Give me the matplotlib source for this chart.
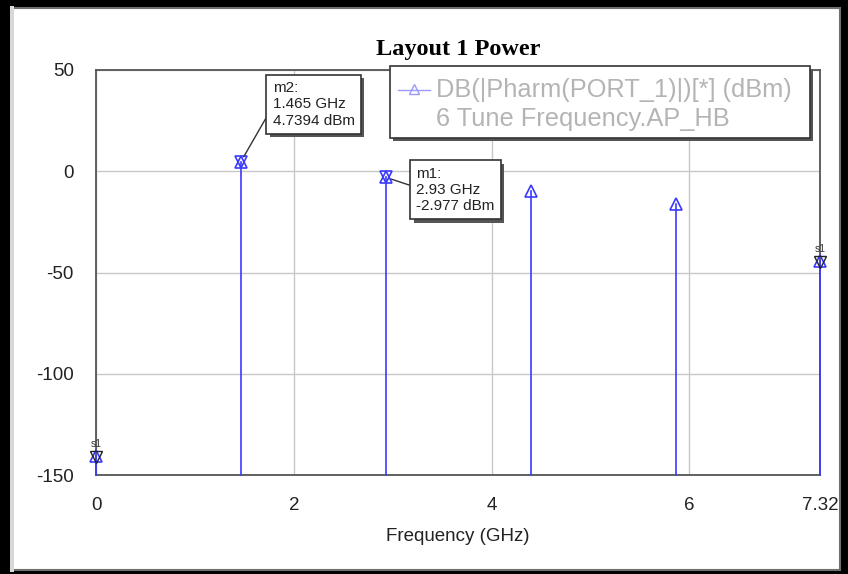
import matplotlib
matplotlib.use("Agg")
import matplotlib.pyplot as plt
from matplotlib.patches import Rectangle
import matplotlib.patheffects as pe

plt.rcParams['font.family'] = ['Liberation Sans', 'DejaVu Sans']
plt.rcParams['axes.unicode_minus'] = False

freq = [0.0, 1.465, 2.93, 4.395, 5.86, 7.32]
power = [-140.5, 4.7394, -2.977, -9.8, -16.3, -44.5]
xticks = [0, 2, 4, 6, 7.32]
xticklabels = ["0", "2", "4", "6", "7.32"]
yticks = [50, 0, -50, -100, -150]

fig = plt.figure(figsize=(8.48, 5.74), dpi=100, facecolor='black')
W, H = 848, 574
# white panel
fig.patches.append(Rectangle((12 / W, 4 / H), 828 / W, 562 / H, transform=fig.transFigure,
                             facecolor='white', edgecolor='#707070', linewidth=1.5, zorder=-2))
fig.patches.append(Rectangle((10 / W, 2 / H), 4 / W, 566 / H, transform=fig.transFigure,
                             facecolor='#d8d8d8', edgecolor='none', zorder=-2))

ax = fig.add_axes([96 / W, 1 - 475 / H, 724 / W, 405 / H])
ax.set_zorder(1)
ax.set_xlim(0, 7.32)
ax.set_ylim(-150, 50)
ax.set_facecolor('white')
for s in ax.spines.values():
    s.set_color('#555555')
    s.set_linewidth(1.3)
ax.set_xticks(xticks)
ax.set_xticklabels(xticklabels)
ax.set_yticks(yticks)
ax.tick_params(length=0, labelsize=13.5, colors='#222222', pad=16)
ax.tick_params(axis='y', pad=16)
ax.grid(True, color='#c8c8c8', linewidth=1)
ax.set_axisbelow(True)

ax.set_title("Layout 1 Power", family='Liberation Serif', fontweight='bold', fontsize=17.5, pad=11)
ax.set_xlabel("Frequency (GHz)", fontsize=13.5, labelpad=10, color='#222222')

blue = '#3a3aff'
for f, p in zip(freq, power):
    ax.plot([f, f], [-150, p], color=blue, linewidth=1.2, zorder=3, clip_on=False)
ax.plot(freq, power, linestyle='none', marker='^', markersize=9, markerfacecolor='none',
        markeredgecolor=blue, markeredgewidth=1.2, zorder=4, clip_on=False)

# marker stars m1, m2
for i in (1, 2):
    ax.plot(freq[i], power[i], marker='v', markersize=9, markerfacecolor='none',
            markeredgecolor=blue, markeredgewidth=1.2, zorder=4)
# end markers s1
for i in (0, 5):
    ax.plot(freq[i], power[i] - 0.5, marker='v', markersize=9, markerfacecolor='none',
            markeredgecolor='#222222', markeredgewidth=1.0, zorder=5, clip_on=False)
    ax.text(freq[i], power[i] + 3.5, "s1", fontsize=7.5, ha='center', va='bottom', color='#333333',
            clip_on=False)

# marker annotations
def marker_box(text, xy, xytext, rel):
    bs = dict(boxstyle='square,pad=0.4', facecolor='white', edgecolor='#333333', linewidth=1.2)
    a = ax.annotate(text, xy=xy, xytext=xytext, fontsize=11, va='top', ha='left',
                    color='#222222', linespacing=1.2, bbox=bs,
                    arrowprops=dict(arrowstyle='-', color='#333333', linewidth=1,
                                    shrinkA=0, shrinkB=4, relpos=rel), zorder=6)
    a.get_bbox_patch().set_path_effects([pe.SimplePatchShadow(offset=(2.5, -2.5),
                                                              shadow_rgbFace='#555555', alpha=1),
                                         pe.Normal()])
    return a

marker_box("m2:\n1.465 GHz\n4.7394 dBm", (freq[1], power[1]), (1.785, 44.5), (0, 0.45))
marker_box("m1:\n2.93 GHz\n-2.977 dBm", (freq[2], power[2]), (3.24, 2.3), (0, 0.55))

# legend box
lx0, ly0, lx1, ly1 = 390, 66, 810, 138
fig.patches.append(Rectangle(((lx0 + 3) / W, 1 - (ly1 + 3) / H), (lx1 - lx0) / W, (ly1 - ly0) / H,
                             transform=fig.transFigure, facecolor='#555555', edgecolor='none', zorder=5))
fig.patches.append(Rectangle((lx0 / W, 1 - ly1 / H), (lx1 - lx0) / W, (ly1 - ly0) / H,
                             transform=fig.transFigure, facecolor='white', edgecolor='#333333',
                             linewidth=1.2, zorder=6))
fig.lines.append(plt.Line2D([398 / W, 430 / W], [1 - 90 / H, 1 - 90 / H], transform=fig.transFigure,
                            color='#9a9aff', linewidth=1, zorder=7))
fig.lines.append(plt.Line2D([414 / W], [1 - 89 / H], transform=fig.transFigure, marker='^',
                            markersize=7, markerfacecolor='none', markeredgecolor='#9a9aff',
                            zorder=7))
fig.text(436 / W, 1 - 90 / H, "DB(|Pharm(PORT_1)|)[*] (dBm)", fontsize=18.3, color='#b4b4b4',
         va='center', ha='left', zorder=7)
fig.text(436 / W, 1 - 119 / H, "6 Tune Frequency.AP_HB", fontsize=18.3, color='#b4b4b4',
         va='center', ha='left', zorder=7)

fig.savefig("out.png", dpi=100, facecolor='black')
